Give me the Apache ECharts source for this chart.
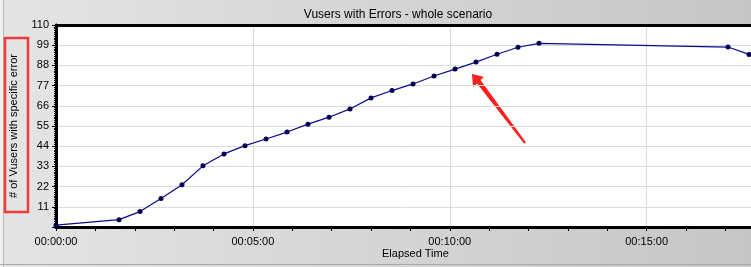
<!DOCTYPE html>
<html><head><meta charset="utf-8">
<script src="https://cdn.jsdelivr.net/npm/echarts@6/dist/echarts.min.js"></script>
<style>html,body{margin:0;padding:0;overflow:hidden}#c{width:751px;height:267px}</style>
</head><body><div id="c"></div>
<script>
// elapsed time in seconds
var times = [0, 96, 128, 160, 192, 224, 256, 288, 320, 352, 384, 416, 448, 480, 512, 544, 576, 608, 640, 672, 704, 736, 1024, 1056];
var vusers = [1, 4, 8.4, 15.5, 23, 33.3, 39.8, 44.3, 47.9, 51.7, 56, 59.8, 64.3, 70.3, 74.3, 77.9, 82.2, 86, 89.8, 94.1, 97.9, 100, 98, 94];
var yTicks = [11, 22, 33, 44, 55, 66, 77, 88, 99, 110];
var titleText = 'Vusers with Errors - whole scenario';
var yName = '# of Vusers with specific error';
var xName = 'Elapsed Time';

function fmt(s){
  var h = Math.floor(s/3600), m = Math.floor((s%3600)/60), ss = Math.round(s%60);
  function p(n){return (n<10?'0':'')+n;}
  return p(h)+':'+p(m)+':'+p(ss);
}
var F = 'Liberation Sans, Arial, sans-serif';
var chart = echarts.init(document.getElementById('c'));
chart.setOption({
  animation: false,
  backgroundColor: {type:'linear', x:0, y:0, x2:1, y2:0, colorStops:[{offset:0,color:'#e4e4e4'},{offset:1,color:'#c6c6c6'}]},
  title: {text: titleText, left: 393, top: 4, textAlign: 'center',
    textStyle: {fontFamily: F, fontSize: 12, fontWeight: 'normal', color: '#000'}},
  grid: {left: 53, right: 0, top: 25, bottom: 40, show: true, backgroundColor: '#fff', borderWidth: 0},
  xAxis: [{
    type: 'value', min: 0, max: 1059, interval: 300,
    axisLine: {lineStyle: {color: '#000', width: 3}},
    axisTick: {length: 4, lineStyle: {color: '#000'}},
    minorTick: {show: true, splitNumber: 5, length: 4, lineStyle: {color: '#000'}},
    axisLabel: {formatter: fmt, margin: 9, fontFamily: F, fontSize: 11, color: '#000', showMaxLabel: false},
    splitLine: {show: true, lineStyle: {color: '#dcdcdc', width: 1}}
  }, {
    type: 'value', position: 'top', min: 0, max: 1059,
    axisLine: {show: true, lineStyle: {color: '#000', width: 3}},
    axisTick: {show: false}, axisLabel: {show: false}, splitLine: {show: false}
  }],
  yAxis: {
    type: 'value', min: 0, max: 110, interval: 11,
    name: yName, nameLocation: 'middle', nameGap: 37, nameRotate: 90,
    nameTextStyle: {fontFamily: F, fontSize: 11, color: '#000'},
    axisLine: {show: true, lineStyle: {color: '#000', width: 3}},
    axisTick: {show: true, length: 4, lineStyle: {color: '#000'}},
    minorTick: {show: true, splitNumber: 11, length: 2, lineStyle: {color: '#000'}},
    axisLabel: {margin: 7, fontFamily: F, fontSize: 11, color: '#000', showMinLabel: false,
      formatter: function(v){ return yTicks.indexOf(v) >= 0 ? String(v) : ''; }},
    splitLine: {show: true, lineStyle: {color: '#dcdcdc', width: 1}}
  },
  series: [{
    type: 'line', data: times.map(function(t,i){return [t, vusers[i]];}),
    lineStyle: {color: '#0a0a8c', width: 1.2},
    itemStyle: {color: '#000050'},
    symbol: 'circle', symbolSize: 5, showSymbol: true, clip: false
  }],
  graphic: [
    {type: 'line', shape: {x1: 3.5, y1: 0, x2: 3.5, y2: 267}, style: {stroke: '#b8b8b8', lineWidth: 1}},
    {type: 'rect', left: 0, top: 0, shape: {width: 3, height: 267}, style: {fill: '#efefef'}},
    {type: 'line', shape: {x1: 0, y1: 264.5, x2: 751, y2: 264.5}, style: {stroke: '#a8a8a8', lineWidth: 1}},
    {type: 'text', left: 382, top: 248, style: {text: xName, font: '11px ' + F, fill: '#000'}},
    {type: 'rect', shape: {x: 5, y: 38, width: 23, height: 174}, style: {fill: 'none', stroke: '#f23a3a', lineWidth: 2.5}},
    {type: 'polygon', shape: {points: [[472,74],[473,87],[477,83.5],[524,143.5],[526,142.5],[480.5,80],[484,77]]},
      style: {fill: '#ff1e1e'}}
  ]
});
</script></body></html>
